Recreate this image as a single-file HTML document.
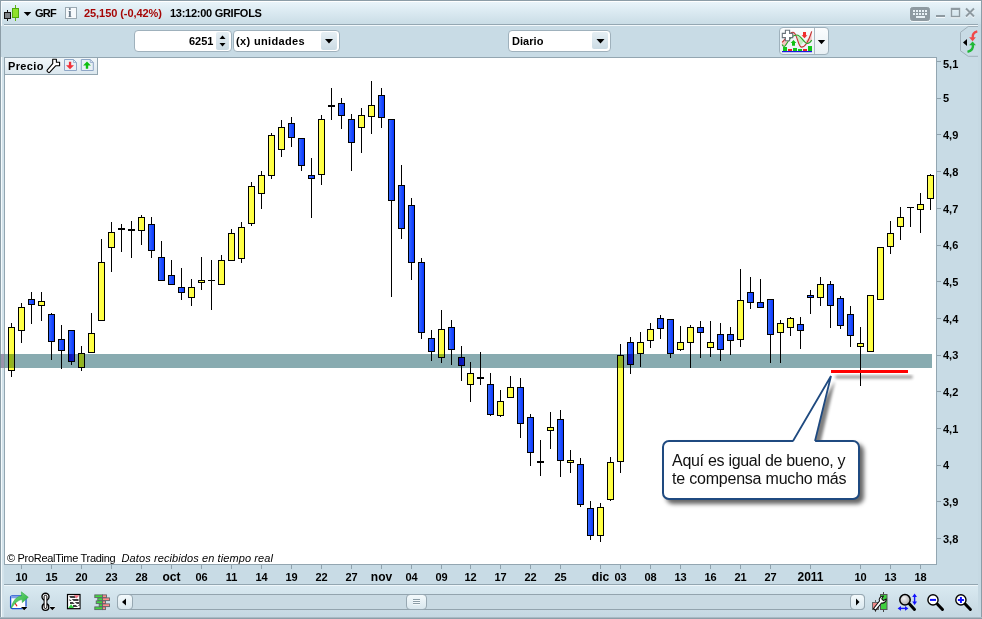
<!DOCTYPE html>
<html><head><meta charset="utf-8"><title>GRF</title>
<style>
*{box-sizing:border-box;margin:0;padding:0}
html,body{width:982px;height:619px;overflow:hidden;background:#c8dbe5}
body{position:relative;font-family:"Liberation Sans",Arial,sans-serif;font-size:11px;font-weight:bold;color:#000}
.abs{position:absolute}
#frame{position:absolute;left:0;top:0;width:982px;height:619px;border:1px solid #8c9da7}
#title{position:absolute;left:1px;top:1px;width:980px;height:23px;background:linear-gradient(#e9f4fa,#d6e6ee 60%,#cadde6);border-top:1px solid #fff;border-left:1px solid #f4fafc}
#tl1{position:absolute;left:4px;top:24px;width:974px;height:1px;background:#94a7b2}
#tl2{position:absolute;left:4px;top:25px;width:974px;height:1px;background:#f2f8fb}
#tool{position:absolute;left:1px;top:26px;width:977px;height:31px;background:#c8dbe5}
#lstrip{position:absolute;left:1px;top:24px;width:3px;height:594px;background:linear-gradient(90deg,#f4fafc 0,#f4fafc 1px,#d3e3eb 1px)}
#rstrip{position:absolute;left:978px;top:24px;width:3px;height:594px;background:#c6d9e3}
.t{position:absolute;white-space:nowrap;line-height:13px}
#chart{position:absolute;left:4px;top:57px;width:933px;height:508px;background:#fff;border:1px solid #93a6b1}
#band{position:absolute;left:0px;top:354px;width:932px;height:14px;background:#88abb0;mix-blend-mode:multiply}
.yt{position:absolute;left:937px;width:4px;height:1px;background:#8fa2ad}
.yl{position:absolute;left:943px;line-height:13px;height:13px}
.xt{position:absolute;top:565px;width:1px;height:4px;background:#8fa2ad}
.xl{position:absolute;top:571px;width:41px;text-align:center;line-height:13px}
.xl.big{font-size:12px;top:570px;line-height:14px}
#sep1{position:absolute;left:4px;top:584px;width:974px;height:1px;background:#93a6b1}
#sep2{position:absolute;left:4px;top:585px;width:974px;height:1px;background:#eef6fa}
#btool{position:absolute;left:4px;top:586px;width:974px;height:31px;background:linear-gradient(#d9e9f1,#c4d7e1)}
#bb{position:absolute;left:0;top:617px;width:982px;height:2px;background:linear-gradient(#a9b9c3 0,#a9b9c3 1px,#8c9da7 1px)}
.inp{position:absolute;top:30px;height:22px;background:#fff;border:1px solid #9fb1bc;border-radius:4px}
.btn{position:absolute;background:linear-gradient(#e6eff4,#cbdbe4);border-radius:2px}
#precio{position:absolute;left:5px;top:58px;width:93px;height:17px;background:linear-gradient(#f1f7fa,#dbe7ee);border-right:1px solid #93a6b1;border-bottom:1px solid #93a6b1}
#copy{position:absolute;left:7px;top:552px;font-weight:normal;font-size:11px;line-height:13px;white-space:nowrap}
#callout{position:absolute;left:661.5px;top:440px;width:198.5px;height:60px;background:#fff;border:2px solid #1f4a80;border-radius:7px;box-shadow:4px 4px 4px rgba(0,0,0,.6)}
#ctext{position:absolute;left:672px;top:452px;font-weight:normal;font-size:16px;line-height:18px;white-space:nowrap;color:#111}
#sb{position:absolute;left:117px;top:594px;width:748px;height:16px;background:#c9dae3;border:1px solid #93a4ae;border-radius:4px}
.sbb{position:absolute;top:594px;width:15px;height:16px;background:linear-gradient(#f4fafc,#d9e7ee);border:1px solid #97a8b2;border-radius:4px}
</style></head><body>
<div id="frame"></div>
<div id="title"></div>
<div id="lstrip"></div><div id="rstrip"></div>
<div id="tl1"></div><div id="tl2"></div>
<div id="tool"></div>

<!-- title bar content -->
<svg class="abs" style="left:0;top:0" width="40" height="25" shape-rendering="crispEdges">
<rect x="7" y="10" width="1" height="11" fill="#111"/><rect x="4" y="12" width="7" height="7" fill="#111"/><rect x="5" y="13" width="5" height="5" fill="#7d8387"/>
<rect x="15" y="5" width="1" height="16" fill="#5cb312"/><rect x="12" y="8" width="7" height="10" fill="#4fa80e"/><rect x="13" y="9" width="5" height="8" fill="#8fe02a"/>
<polygon points="23.700,12 31.300,12 27.500,16" fill="#000" shape-rendering="auto"/>
</svg>
<div class="t" style="left:35px;top:7px;letter-spacing:-0.7px">GRF</div>
<div class="abs" style="left:65px;top:7px;width:12px;height:12px;background:#f6fafc;border:1px solid #9aa9b2"></div>
<div class="t" style="left:68px;top:6px;font-family:'Liberation Serif',serif;color:#6c7d8b;font-size:13px;font-weight:bold">i</div>
<div class="t" style="left:84px;top:7px;color:#a60606;letter-spacing:-0.07px">25,150 (-0,42%)</div>
<div class="t" style="left:170px;top:7px;letter-spacing:-0.27px">13:12:00 GRIFOLS</div>

<!-- window buttons -->
<svg class="abs" style="left:905px;top:3px" width="75" height="22">
<rect x="5.500" y="5.500" width="19" height="13" rx="2" fill="#f2f8fb" stroke="#f2f8fb"/>
<rect x="5.500" y="4.500" width="19" height="13" rx="2" fill="#8e9aa1" stroke="#8e9aa1"/>
<g fill="#e8f1f5"><rect x="8" y="7" width="2" height="2"/><rect x="11" y="7" width="2" height="2"/><rect x="14" y="7" width="2" height="2"/><rect x="17" y="7" width="2" height="2"/><rect x="20" y="7" width="2" height="2"/>
<rect x="8" y="10" width="2" height="2"/><rect x="11" y="10" width="2" height="2"/><rect x="14" y="10" width="2" height="2"/><rect x="17" y="10" width="2" height="2"/><rect x="20" y="10" width="2" height="2"/>
<rect x="11" y="13" width="9" height="2"/></g>
<rect x="31" y="13" width="9" height="2" fill="#f2f8fb"/>
<rect x="31" y="12" width="9" height="2" fill="#8e9aa1"/>
<rect x="46.500" y="6.500" width="8" height="8" fill="none" stroke="#f2f8fb" stroke-width="1.400"/>
<rect x="46.500" y="5.500" width="8" height="8" fill="none" stroke="#8e9aa1" stroke-width="1.400"/>
<rect x="46" y="5" width="9" height="2" fill="#8e9aa1"/>
<path d="M61,6.500 L69,14.500 M69,6.500 L61,14.500" stroke="#f2f8fb" stroke-width="1.800" fill="none"/>
<path d="M61,5.500 L69,13.500 M69,5.500 L61,13.500" stroke="#8e9aa1" stroke-width="1.900" fill="none"/>
</svg>

<!-- toolbar controls -->
<div class="inp" style="left:134px;width:98px"></div>
<div class="t" style="left:189px;top:35px;font-size:11px">6251</div>
<div class="btn" style="left:216px;top:32px;width:13px;height:18px"></div>
<svg class="abs" style="left:216px;top:32px" width="13" height="18"><polygon points="3.500,7 9.500,7 6.500,3.500" fill="#000"/><polygon points="3.500,11 9.500,11 6.500,14.500" fill="#000"/></svg>
<div class="inp" style="left:233px;width:107px"></div>
<div class="t" style="left:236px;top:35px;letter-spacing:0.35px">(x) unidades</div>
<div class="btn" style="left:321px;top:32px;width:16px;height:18px"></div>
<svg class="abs" style="left:321px;top:32px" width="16" height="18"><polygon points="4,7 12,7 8,11.500" fill="#000"/></svg>

<div class="inp" style="left:508px;width:103px"></div>
<div class="t" style="left:512px;top:35px;letter-spacing:0.05px">Diario</div>
<div class="btn" style="left:592px;top:32px;width:16px;height:17px"></div>
<svg class="abs" style="left:592px;top:32px" width="16" height="18"><polygon points="4.500,7 12.500,7 8.500,11.400" fill="#000"/></svg>

<!-- indicator button -->
<div class="abs" style="left:779px;top:27px;width:50px;height:28px;background:linear-gradient(#fbfdfe,#e8f0f4);border:1px solid #9fb1bc;border-radius:4px"></div>
<div class="abs" style="left:814px;top:28px;width:1px;height:26px;background:#aab9c2"></div>
<svg class="abs" style="left:781px;top:28px" width="34" height="26">
<path d="M1.100,14.300 C5,11 8,4.200 12.100,4.200 C13.500,4.200 14.200,5.300 15,6.800 C11,6.500 8,12 4.500,17.500 C3,19 2,18 1.100,16.500 Z" fill="#f6c4c4"/>
<path d="M15,6.800 C16.500,10 18,15 19.500,17.800 C20.500,17 23,12 24.300,13.500 C22,11 19,7 15,6.800 Z" fill="#c2efc2"/>
<path d="M24.300,13.500 C27,11 29,8 30.700,3.300 L30.700,12 C29,15 27,16.500 24.300,13.500 Z" fill="#f6c4c4"/>
<path d="M1.100,14.300 C5,11 8,4.200 12.100,4.200 C16,4.200 17,19.100 20.400,19.100 C24,19.100 28,12 30.700,3.300" fill="none" stroke="#c23030" stroke-width="1.100"/>
<path d="M1.100,16.500 C2,18.500 3.500,19 4.500,17.500 C8,12 11,7 15.800,7 C20,7 23,15.500 26.200,15.500 C28,15.500 29.500,14.500 30.700,12" fill="none" stroke="#28a428" stroke-width="1.100"/>
<path d="M4.400,2.300 h4.200 v3.100 h3.100 v4.200 h-3.100 v3.100 h-4.200 v-3.100 h-3.100 v-4.200 h3.100 z" fill="#fff" stroke="#6a737b" stroke-width="1.100"/>
<path d="M22,3.900 h3 v3.400 h1.400 l-2.900,3 l-2.900,-3 h1.400 z" fill="#f03030"/>
<path d="M11,17.700 h3 v-2.800 h1.300 l-2.800,-3 l-2.800,3 h1.300 z" fill="#10c010"/>
<g fill="#10c818"><rect x="2" y="19" width="4" height="4.500"/><rect x="12" y="20" width="4" height="3.500"/><rect x="17" y="21" width="4" height="2.500"/><rect x="27" y="18" width="4" height="5.500"/></g>
<g fill="#e62828"><rect x="7" y="21" width="4" height="2.500"/><rect x="22" y="21" width="4" height="2.500"/></g>
<rect x="1" y="23" width="30" height="1.200" fill="#1818e0"/>
</svg>
<svg class="abs" style="left:815px;top:28px" width="14" height="26"><polygon points="2.800,12 10.200,12 6.500,16.300" fill="#000"/></svg>

<!-- right tab -->
<svg class="abs" style="left:958px;top:24px" width="20" height="36">
<path d="M20,2.500 H10.200 L2.500,8.300 V26.800 L10.200,32.300 H20" fill="none" stroke="#9fb0ba" stroke-width="1"/>
<polygon points="5,18.400 9,14.900 9,21.900" fill="#000"/>
<path d="M14.800,13.800 C14.300,10 16,8 19.300,7.300" fill="none" stroke="#f04848" stroke-width="2.400"/><polygon points="11.100,13.200 17.900,13.200 14.600,17.300" fill="#f04848"/>
<path d="M14.800,20.500 C15.600,24.500 14,26.600 9.500,27.800" fill="none" stroke="#20b838" stroke-width="2.400"/><polygon points="11.100,21.200 17.900,21.200 14.600,17.500" fill="#20b838"/>
</svg>

<!-- chart -->
<div id="chart"></div>
<svg class="abs" style="left:0;top:0" width="982" height="619" shape-rendering="crispEdges">
<defs>
<linearGradient id="gb" x1="0" x2="1" y1="0" y2="0"><stop offset="0" stop-color="#3468ff"/><stop offset="1" stop-color="#0c38ff"/></linearGradient>
<linearGradient id="gy" x1="0" x2="1" y1="0" y2="0"><stop offset="0" stop-color="#ffff58"/><stop offset="1" stop-color="#ffff38"/></linearGradient>
<linearGradient id="gb2" x1="0" x2="1" y1="0" y2="0"><stop offset="0" stop-color="#0a10b6"/><stop offset="1" stop-color="#1224c2"/></linearGradient>
<linearGradient id="gy2" x1="0" x2="1" y1="0" y2="0"><stop offset="0" stop-color="#98b90c"/><stop offset="1" stop-color="#8eae30"/></linearGradient>
<clipPath id="cout"><rect x="0" y="0" width="982" height="354"/><rect x="0" y="368" width="982" height="251"/></clipPath>
<clipPath id="cin"><rect x="0" y="354" width="932" height="14"/></clipPath>
</defs>
<rect x="0" y="354" width="932" height="14" fill="#88abb0"/>
<rect x="0" y="354" width="1" height="14" fill="#6f8f96"/>
<rect x="1" y="354" width="3" height="14" fill="#9a93ac"/>
<rect x="4" y="354" width="1" height="14" fill="#7a979d"/>
<g clip-path="url(#cout)">
<rect x="11" y="323" width="1" height="54" fill="#000"/>
<rect x="8" y="327" width="7" height="44" fill="#000"/>
<rect x="9" y="328" width="5" height="42" fill="url(#gy)"/>
<rect x="21" y="303" width="1" height="40" fill="#000"/>
<rect x="18" y="307" width="7" height="24" fill="#000"/>
<rect x="19" y="308" width="5" height="22" fill="url(#gy)"/>
<rect x="31" y="292" width="1" height="32" fill="#000"/>
<rect x="28" y="299" width="7" height="6" fill="#000"/>
<rect x="29" y="300" width="5" height="4" fill="url(#gb)"/>
<rect x="41" y="292" width="1" height="29" fill="#000"/>
<rect x="38" y="301" width="7" height="5" fill="#000"/>
<rect x="39" y="302" width="5" height="3" fill="url(#gy)"/>
<rect x="51" y="313" width="1" height="47" fill="#000"/>
<rect x="48" y="314" width="7" height="28" fill="#000"/>
<rect x="49" y="315" width="5" height="26" fill="url(#gb)"/>
<rect x="61" y="325" width="1" height="44" fill="#000"/>
<rect x="58" y="339" width="7" height="12" fill="#000"/>
<rect x="59" y="340" width="5" height="10" fill="url(#gb)"/>
<rect x="71" y="330" width="1" height="35" fill="#000"/>
<rect x="68" y="330" width="7" height="32" fill="#000"/>
<rect x="69" y="331" width="5" height="30" fill="url(#gb)"/>
<rect x="81" y="346" width="1" height="25" fill="#000"/>
<rect x="78" y="353" width="7" height="15" fill="#000"/>
<rect x="79" y="354" width="5" height="13" fill="url(#gy)"/>
<rect x="91" y="313" width="1" height="40" fill="#000"/>
<rect x="88" y="333" width="7" height="20" fill="#000"/>
<rect x="89" y="334" width="5" height="18" fill="url(#gy)"/>
<rect x="101" y="239" width="1" height="82" fill="#000"/>
<rect x="98" y="262" width="7" height="59" fill="#000"/>
<rect x="99" y="263" width="5" height="57" fill="url(#gy)"/>
<rect x="111" y="222" width="1" height="50" fill="#000"/>
<rect x="108" y="232" width="7" height="16" fill="#000"/>
<rect x="109" y="233" width="5" height="14" fill="url(#gy)"/>
<rect x="121" y="224" width="1" height="28" fill="#000"/>
<rect x="118" y="228" width="7" height="2" fill="#000"/>
<rect x="131" y="221" width="1" height="37" fill="#000"/>
<rect x="128" y="229" width="7" height="2" fill="#000"/>
<rect x="141" y="215" width="1" height="30" fill="#000"/>
<rect x="138" y="217" width="7" height="14" fill="#000"/>
<rect x="139" y="218" width="5" height="12" fill="url(#gy)"/>
<rect x="151" y="217" width="1" height="41" fill="#000"/>
<rect x="148" y="224" width="7" height="27" fill="#000"/>
<rect x="149" y="225" width="5" height="25" fill="url(#gb)"/>
<rect x="161" y="241" width="1" height="40" fill="#000"/>
<rect x="158" y="257" width="7" height="24" fill="#000"/>
<rect x="159" y="258" width="5" height="22" fill="url(#gb)"/>
<rect x="171" y="260" width="1" height="25" fill="#000"/>
<rect x="168" y="275" width="7" height="10" fill="#000"/>
<rect x="169" y="276" width="5" height="8" fill="url(#gb)"/>
<rect x="181" y="268" width="1" height="32" fill="#000"/>
<rect x="178" y="287" width="7" height="6" fill="#000"/>
<rect x="179" y="288" width="5" height="4" fill="url(#gb)"/>
<rect x="191" y="279" width="1" height="27" fill="#000"/>
<rect x="188" y="287" width="7" height="11" fill="#000"/>
<rect x="189" y="288" width="5" height="9" fill="url(#gy)"/>
<rect x="201" y="257" width="1" height="33" fill="#000"/>
<rect x="198" y="280" width="7" height="3" fill="#000"/>
<rect x="199" y="281" width="5" height="1" fill="url(#gy)"/>
<rect x="211" y="260" width="1" height="50" fill="#000"/>
<rect x="208" y="280" width="7" height="1" fill="#000"/>
<rect x="221" y="255" width="1" height="30" fill="#000"/>
<rect x="218" y="260" width="7" height="25" fill="#000"/>
<rect x="219" y="261" width="5" height="23" fill="url(#gy)"/>
<rect x="231" y="229" width="1" height="32" fill="#000"/>
<rect x="228" y="233" width="7" height="28" fill="#000"/>
<rect x="229" y="234" width="5" height="26" fill="url(#gy)"/>
<rect x="241" y="222" width="1" height="41" fill="#000"/>
<rect x="238" y="227" width="7" height="32" fill="#000"/>
<rect x="239" y="228" width="5" height="30" fill="url(#gy)"/>
<rect x="251" y="182" width="1" height="44" fill="#000"/>
<rect x="248" y="186" width="7" height="38" fill="#000"/>
<rect x="249" y="187" width="5" height="36" fill="url(#gy)"/>
<rect x="261" y="171" width="1" height="38" fill="#000"/>
<rect x="258" y="175" width="7" height="19" fill="#000"/>
<rect x="259" y="176" width="5" height="17" fill="url(#gy)"/>
<rect x="271" y="133" width="1" height="46" fill="#000"/>
<rect x="268" y="135" width="7" height="41" fill="#000"/>
<rect x="269" y="136" width="5" height="39" fill="url(#gy)"/>
<rect x="281" y="120" width="1" height="37" fill="#000"/>
<rect x="278" y="127" width="7" height="23" fill="#000"/>
<rect x="279" y="128" width="5" height="21" fill="url(#gy)"/>
<rect x="291" y="117" width="1" height="30" fill="#000"/>
<rect x="288" y="123" width="7" height="15" fill="#000"/>
<rect x="289" y="124" width="5" height="13" fill="url(#gb)"/>
<rect x="301" y="138" width="1" height="33" fill="#000"/>
<rect x="298" y="138" width="7" height="28" fill="#000"/>
<rect x="299" y="139" width="5" height="26" fill="url(#gb)"/>
<rect x="311" y="158" width="1" height="60" fill="#000"/>
<rect x="308" y="175" width="7" height="4" fill="#000"/>
<rect x="309" y="176" width="5" height="2" fill="url(#gb)"/>
<rect x="321" y="115" width="1" height="70" fill="#000"/>
<rect x="318" y="119" width="7" height="56" fill="#000"/>
<rect x="319" y="120" width="5" height="54" fill="url(#gy)"/>
<rect x="331" y="88" width="1" height="32" fill="#000"/>
<rect x="328" y="105" width="7" height="2" fill="#000"/>
<rect x="341" y="98" width="1" height="31" fill="#000"/>
<rect x="338" y="103" width="7" height="13" fill="#000"/>
<rect x="339" y="104" width="5" height="11" fill="url(#gb)"/>
<rect x="351" y="114" width="1" height="57" fill="#000"/>
<rect x="348" y="119" width="7" height="24" fill="#000"/>
<rect x="349" y="120" width="5" height="22" fill="url(#gb)"/>
<rect x="361" y="108" width="1" height="45" fill="#000"/>
<rect x="358" y="115" width="7" height="13" fill="#000"/>
<rect x="359" y="116" width="5" height="11" fill="url(#gy)"/>
<rect x="371" y="81" width="1" height="53" fill="#000"/>
<rect x="368" y="105" width="7" height="12" fill="#000"/>
<rect x="369" y="106" width="5" height="10" fill="url(#gy)"/>
<rect x="381" y="88" width="1" height="40" fill="#000"/>
<rect x="378" y="95" width="7" height="23" fill="#000"/>
<rect x="379" y="96" width="5" height="21" fill="url(#gb)"/>
<rect x="391" y="119" width="1" height="178" fill="#000"/>
<rect x="388" y="119" width="7" height="82" fill="#000"/>
<rect x="389" y="120" width="5" height="80" fill="url(#gb)"/>
<rect x="401" y="165" width="1" height="74" fill="#000"/>
<rect x="398" y="185" width="7" height="44" fill="#000"/>
<rect x="399" y="186" width="5" height="42" fill="url(#gb)"/>
<rect x="411" y="198" width="1" height="82" fill="#000"/>
<rect x="408" y="205" width="7" height="58" fill="#000"/>
<rect x="409" y="206" width="5" height="56" fill="url(#gb)"/>
<rect x="421" y="258" width="1" height="81" fill="#000"/>
<rect x="418" y="262" width="7" height="71" fill="#000"/>
<rect x="419" y="263" width="5" height="69" fill="url(#gb)"/>
<rect x="431" y="330" width="1" height="31" fill="#000"/>
<rect x="428" y="338" width="7" height="14" fill="#000"/>
<rect x="429" y="339" width="5" height="12" fill="url(#gb)"/>
<rect x="441" y="310" width="1" height="53" fill="#000"/>
<rect x="438" y="329" width="7" height="29" fill="#000"/>
<rect x="439" y="330" width="5" height="27" fill="url(#gy)"/>
<rect x="451" y="320" width="1" height="45" fill="#000"/>
<rect x="448" y="327" width="7" height="23" fill="#000"/>
<rect x="449" y="328" width="5" height="21" fill="url(#gb)"/>
<rect x="461" y="346" width="1" height="35" fill="#000"/>
<rect x="458" y="357" width="7" height="9" fill="#000"/>
<rect x="459" y="358" width="5" height="7" fill="url(#gb)"/>
<rect x="470" y="362" width="1" height="40" fill="#000"/>
<rect x="467" y="373" width="7" height="12" fill="#000"/>
<rect x="468" y="374" width="5" height="10" fill="url(#gy)"/>
<rect x="480" y="352" width="1" height="33" fill="#000"/>
<rect x="477" y="377" width="7" height="2" fill="#000"/>
<rect x="490" y="373" width="1" height="43" fill="#000"/>
<rect x="487" y="384" width="7" height="31" fill="#000"/>
<rect x="488" y="385" width="5" height="29" fill="url(#gb)"/>
<rect x="500" y="390" width="1" height="27" fill="#000"/>
<rect x="497" y="401" width="7" height="15" fill="#000"/>
<rect x="498" y="402" width="5" height="13" fill="url(#gy)"/>
<rect x="510" y="376" width="1" height="22" fill="#000"/>
<rect x="507" y="387" width="7" height="11" fill="#000"/>
<rect x="508" y="388" width="5" height="9" fill="url(#gy)"/>
<rect x="520" y="378" width="1" height="60" fill="#000"/>
<rect x="517" y="387" width="7" height="37" fill="#000"/>
<rect x="518" y="388" width="5" height="35" fill="url(#gb)"/>
<rect x="530" y="414" width="1" height="52" fill="#000"/>
<rect x="527" y="417" width="7" height="36" fill="#000"/>
<rect x="528" y="418" width="5" height="34" fill="url(#gb)"/>
<rect x="540" y="440" width="1" height="36" fill="#000"/>
<rect x="537" y="461" width="7" height="2" fill="#000"/>
<rect x="550" y="412" width="1" height="37" fill="#000"/>
<rect x="547" y="427" width="7" height="4" fill="#000"/>
<rect x="548" y="428" width="5" height="2" fill="url(#gy)"/>
<rect x="560" y="410" width="1" height="67" fill="#000"/>
<rect x="557" y="419" width="7" height="42" fill="#000"/>
<rect x="558" y="420" width="5" height="40" fill="url(#gb)"/>
<rect x="570" y="450" width="1" height="23" fill="#000"/>
<rect x="567" y="460" width="7" height="3" fill="#000"/>
<rect x="568" y="461" width="5" height="1" fill="url(#gy)"/>
<rect x="580" y="458" width="1" height="49" fill="#000"/>
<rect x="577" y="464" width="7" height="41" fill="#000"/>
<rect x="578" y="465" width="5" height="39" fill="url(#gb)"/>
<rect x="590" y="501" width="1" height="39" fill="#000"/>
<rect x="587" y="508" width="7" height="28" fill="#000"/>
<rect x="588" y="509" width="5" height="26" fill="url(#gb)"/>
<rect x="600" y="503" width="1" height="39" fill="#000"/>
<rect x="597" y="507" width="7" height="29" fill="#000"/>
<rect x="598" y="508" width="5" height="27" fill="url(#gy)"/>
<rect x="610" y="457" width="1" height="44" fill="#000"/>
<rect x="607" y="462" width="7" height="38" fill="#000"/>
<rect x="608" y="463" width="5" height="36" fill="url(#gy)"/>
<rect x="620" y="344" width="1" height="129" fill="#000"/>
<rect x="617" y="355" width="7" height="107" fill="#000"/>
<rect x="618" y="356" width="5" height="105" fill="url(#gy)"/>
<rect x="630" y="337" width="1" height="37" fill="#000"/>
<rect x="627" y="342" width="7" height="23" fill="#000"/>
<rect x="628" y="343" width="5" height="21" fill="url(#gb)"/>
<rect x="640" y="332" width="1" height="35" fill="#000"/>
<rect x="637" y="342" width="7" height="12" fill="#000"/>
<rect x="638" y="343" width="5" height="10" fill="url(#gy)"/>
<rect x="650" y="323" width="1" height="25" fill="#000"/>
<rect x="647" y="329" width="7" height="12" fill="#000"/>
<rect x="648" y="330" width="5" height="10" fill="url(#gy)"/>
<rect x="660" y="315" width="1" height="24" fill="#000"/>
<rect x="657" y="318" width="7" height="11" fill="#000"/>
<rect x="658" y="319" width="5" height="9" fill="url(#gb)"/>
<rect x="670" y="319" width="1" height="39" fill="#000"/>
<rect x="667" y="319" width="7" height="35" fill="#000"/>
<rect x="668" y="320" width="5" height="33" fill="url(#gb)"/>
<rect x="680" y="326" width="1" height="25" fill="#000"/>
<rect x="677" y="342" width="7" height="8" fill="#000"/>
<rect x="678" y="343" width="5" height="6" fill="url(#gy)"/>
<rect x="690" y="325" width="1" height="43" fill="#000"/>
<rect x="687" y="327" width="7" height="16" fill="#000"/>
<rect x="688" y="328" width="5" height="14" fill="url(#gy)"/>
<rect x="700" y="321" width="1" height="37" fill="#000"/>
<rect x="697" y="327" width="7" height="6" fill="#000"/>
<rect x="698" y="328" width="5" height="4" fill="url(#gb)"/>
<rect x="710" y="321" width="1" height="36" fill="#000"/>
<rect x="707" y="342" width="7" height="6" fill="#000"/>
<rect x="708" y="343" width="5" height="4" fill="url(#gy)"/>
<rect x="720" y="323" width="1" height="38" fill="#000"/>
<rect x="717" y="334" width="7" height="16" fill="#000"/>
<rect x="718" y="335" width="5" height="14" fill="url(#gb)"/>
<rect x="730" y="327" width="1" height="28" fill="#000"/>
<rect x="727" y="334" width="7" height="7" fill="#000"/>
<rect x="728" y="335" width="5" height="5" fill="url(#gb)"/>
<rect x="740" y="269" width="1" height="78" fill="#000"/>
<rect x="737" y="300" width="7" height="40" fill="#000"/>
<rect x="738" y="301" width="5" height="38" fill="url(#gy)"/>
<rect x="750" y="277" width="1" height="32" fill="#000"/>
<rect x="747" y="292" width="7" height="11" fill="#000"/>
<rect x="748" y="293" width="5" height="9" fill="url(#gb)"/>
<rect x="760" y="279" width="1" height="29" fill="#000"/>
<rect x="757" y="302" width="7" height="6" fill="#000"/>
<rect x="758" y="303" width="5" height="4" fill="url(#gb)"/>
<rect x="770" y="299" width="1" height="64" fill="#000"/>
<rect x="767" y="299" width="7" height="36" fill="#000"/>
<rect x="768" y="300" width="5" height="34" fill="url(#gb)"/>
<rect x="780" y="320" width="1" height="43" fill="#000"/>
<rect x="777" y="323" width="7" height="10" fill="#000"/>
<rect x="778" y="324" width="5" height="8" fill="url(#gy)"/>
<rect x="790" y="317" width="1" height="19" fill="#000"/>
<rect x="787" y="318" width="7" height="10" fill="#000"/>
<rect x="788" y="319" width="5" height="8" fill="url(#gy)"/>
<rect x="800" y="317" width="1" height="32" fill="#000"/>
<rect x="797" y="324" width="7" height="7" fill="#000"/>
<rect x="798" y="325" width="5" height="5" fill="url(#gb)"/>
<rect x="810" y="290" width="1" height="24" fill="#000"/>
<rect x="807" y="295" width="7" height="3" fill="#000"/>
<rect x="808" y="296" width="5" height="1" fill="url(#gb)"/>
<rect x="820" y="277" width="1" height="29" fill="#000"/>
<rect x="817" y="284" width="7" height="14" fill="#000"/>
<rect x="818" y="285" width="5" height="12" fill="url(#gy)"/>
<rect x="830" y="281" width="1" height="47" fill="#000"/>
<rect x="827" y="284" width="7" height="22" fill="#000"/>
<rect x="828" y="285" width="5" height="20" fill="url(#gb)"/>
<rect x="840" y="296" width="1" height="33" fill="#000"/>
<rect x="837" y="298" width="7" height="28" fill="#000"/>
<rect x="838" y="299" width="5" height="26" fill="url(#gb)"/>
<rect x="850" y="306" width="1" height="41" fill="#000"/>
<rect x="847" y="314" width="7" height="22" fill="#000"/>
<rect x="848" y="315" width="5" height="20" fill="url(#gb)"/>
<rect x="860" y="327" width="1" height="59" fill="#000"/>
<rect x="857" y="343" width="7" height="4" fill="#000"/>
<rect x="858" y="344" width="5" height="2" fill="url(#gy)"/>
<rect x="870" y="295" width="1" height="57" fill="#000"/>
<rect x="867" y="295" width="7" height="57" fill="#000"/>
<rect x="868" y="296" width="5" height="55" fill="url(#gy)"/>
<rect x="880" y="247" width="1" height="53" fill="#000"/>
<rect x="877" y="247" width="7" height="53" fill="#000"/>
<rect x="878" y="248" width="5" height="51" fill="url(#gy)"/>
<rect x="890" y="221" width="1" height="33" fill="#000"/>
<rect x="887" y="233" width="7" height="14" fill="#000"/>
<rect x="888" y="234" width="5" height="12" fill="url(#gy)"/>
<rect x="900" y="207" width="1" height="33" fill="#000"/>
<rect x="897" y="217" width="7" height="10" fill="#000"/>
<rect x="898" y="218" width="5" height="8" fill="url(#gy)"/>
<rect x="910" y="207" width="1" height="20" fill="#000"/>
<rect x="907" y="207" width="7" height="1" fill="#000"/>
<rect x="920" y="193" width="1" height="40" fill="#000"/>
<rect x="917" y="204" width="7" height="6" fill="#000"/>
<rect x="918" y="205" width="5" height="4" fill="url(#gy)"/>
<rect x="930" y="174" width="1" height="36" fill="#000"/>
<rect x="927" y="175" width="7" height="24" fill="#000"/>
<rect x="928" y="176" width="5" height="22" fill="url(#gy)"/>
</g>
<g clip-path="url(#cin)">
<rect x="11" y="323" width="1" height="54" fill="#000"/>
<rect x="8" y="327" width="7" height="44" fill="#000"/>
<rect x="9" y="328" width="5" height="42" fill="url(#gy2)"/>
<rect x="21" y="303" width="1" height="40" fill="#000"/>
<rect x="18" y="307" width="7" height="24" fill="#000"/>
<rect x="19" y="308" width="5" height="22" fill="url(#gy2)"/>
<rect x="31" y="292" width="1" height="32" fill="#000"/>
<rect x="28" y="299" width="7" height="6" fill="#000"/>
<rect x="29" y="300" width="5" height="4" fill="url(#gb2)"/>
<rect x="41" y="292" width="1" height="29" fill="#000"/>
<rect x="38" y="301" width="7" height="5" fill="#000"/>
<rect x="39" y="302" width="5" height="3" fill="url(#gy2)"/>
<rect x="51" y="313" width="1" height="47" fill="#000"/>
<rect x="48" y="314" width="7" height="28" fill="#000"/>
<rect x="49" y="315" width="5" height="26" fill="url(#gb2)"/>
<rect x="61" y="325" width="1" height="44" fill="#000"/>
<rect x="58" y="339" width="7" height="12" fill="#000"/>
<rect x="59" y="340" width="5" height="10" fill="url(#gb2)"/>
<rect x="71" y="330" width="1" height="35" fill="#000"/>
<rect x="68" y="330" width="7" height="32" fill="#000"/>
<rect x="69" y="331" width="5" height="30" fill="url(#gb2)"/>
<rect x="81" y="346" width="1" height="25" fill="#000"/>
<rect x="78" y="353" width="7" height="15" fill="#000"/>
<rect x="79" y="354" width="5" height="13" fill="url(#gy2)"/>
<rect x="91" y="313" width="1" height="40" fill="#000"/>
<rect x="88" y="333" width="7" height="20" fill="#000"/>
<rect x="89" y="334" width="5" height="18" fill="url(#gy2)"/>
<rect x="101" y="239" width="1" height="82" fill="#000"/>
<rect x="98" y="262" width="7" height="59" fill="#000"/>
<rect x="99" y="263" width="5" height="57" fill="url(#gy2)"/>
<rect x="111" y="222" width="1" height="50" fill="#000"/>
<rect x="108" y="232" width="7" height="16" fill="#000"/>
<rect x="109" y="233" width="5" height="14" fill="url(#gy2)"/>
<rect x="121" y="224" width="1" height="28" fill="#000"/>
<rect x="118" y="228" width="7" height="2" fill="#000"/>
<rect x="131" y="221" width="1" height="37" fill="#000"/>
<rect x="128" y="229" width="7" height="2" fill="#000"/>
<rect x="141" y="215" width="1" height="30" fill="#000"/>
<rect x="138" y="217" width="7" height="14" fill="#000"/>
<rect x="139" y="218" width="5" height="12" fill="url(#gy2)"/>
<rect x="151" y="217" width="1" height="41" fill="#000"/>
<rect x="148" y="224" width="7" height="27" fill="#000"/>
<rect x="149" y="225" width="5" height="25" fill="url(#gb2)"/>
<rect x="161" y="241" width="1" height="40" fill="#000"/>
<rect x="158" y="257" width="7" height="24" fill="#000"/>
<rect x="159" y="258" width="5" height="22" fill="url(#gb2)"/>
<rect x="171" y="260" width="1" height="25" fill="#000"/>
<rect x="168" y="275" width="7" height="10" fill="#000"/>
<rect x="169" y="276" width="5" height="8" fill="url(#gb2)"/>
<rect x="181" y="268" width="1" height="32" fill="#000"/>
<rect x="178" y="287" width="7" height="6" fill="#000"/>
<rect x="179" y="288" width="5" height="4" fill="url(#gb2)"/>
<rect x="191" y="279" width="1" height="27" fill="#000"/>
<rect x="188" y="287" width="7" height="11" fill="#000"/>
<rect x="189" y="288" width="5" height="9" fill="url(#gy2)"/>
<rect x="201" y="257" width="1" height="33" fill="#000"/>
<rect x="198" y="280" width="7" height="3" fill="#000"/>
<rect x="199" y="281" width="5" height="1" fill="url(#gy2)"/>
<rect x="211" y="260" width="1" height="50" fill="#000"/>
<rect x="208" y="280" width="7" height="1" fill="#000"/>
<rect x="221" y="255" width="1" height="30" fill="#000"/>
<rect x="218" y="260" width="7" height="25" fill="#000"/>
<rect x="219" y="261" width="5" height="23" fill="url(#gy2)"/>
<rect x="231" y="229" width="1" height="32" fill="#000"/>
<rect x="228" y="233" width="7" height="28" fill="#000"/>
<rect x="229" y="234" width="5" height="26" fill="url(#gy2)"/>
<rect x="241" y="222" width="1" height="41" fill="#000"/>
<rect x="238" y="227" width="7" height="32" fill="#000"/>
<rect x="239" y="228" width="5" height="30" fill="url(#gy2)"/>
<rect x="251" y="182" width="1" height="44" fill="#000"/>
<rect x="248" y="186" width="7" height="38" fill="#000"/>
<rect x="249" y="187" width="5" height="36" fill="url(#gy2)"/>
<rect x="261" y="171" width="1" height="38" fill="#000"/>
<rect x="258" y="175" width="7" height="19" fill="#000"/>
<rect x="259" y="176" width="5" height="17" fill="url(#gy2)"/>
<rect x="271" y="133" width="1" height="46" fill="#000"/>
<rect x="268" y="135" width="7" height="41" fill="#000"/>
<rect x="269" y="136" width="5" height="39" fill="url(#gy2)"/>
<rect x="281" y="120" width="1" height="37" fill="#000"/>
<rect x="278" y="127" width="7" height="23" fill="#000"/>
<rect x="279" y="128" width="5" height="21" fill="url(#gy2)"/>
<rect x="291" y="117" width="1" height="30" fill="#000"/>
<rect x="288" y="123" width="7" height="15" fill="#000"/>
<rect x="289" y="124" width="5" height="13" fill="url(#gb2)"/>
<rect x="301" y="138" width="1" height="33" fill="#000"/>
<rect x="298" y="138" width="7" height="28" fill="#000"/>
<rect x="299" y="139" width="5" height="26" fill="url(#gb2)"/>
<rect x="311" y="158" width="1" height="60" fill="#000"/>
<rect x="308" y="175" width="7" height="4" fill="#000"/>
<rect x="309" y="176" width="5" height="2" fill="url(#gb2)"/>
<rect x="321" y="115" width="1" height="70" fill="#000"/>
<rect x="318" y="119" width="7" height="56" fill="#000"/>
<rect x="319" y="120" width="5" height="54" fill="url(#gy2)"/>
<rect x="331" y="88" width="1" height="32" fill="#000"/>
<rect x="328" y="105" width="7" height="2" fill="#000"/>
<rect x="341" y="98" width="1" height="31" fill="#000"/>
<rect x="338" y="103" width="7" height="13" fill="#000"/>
<rect x="339" y="104" width="5" height="11" fill="url(#gb2)"/>
<rect x="351" y="114" width="1" height="57" fill="#000"/>
<rect x="348" y="119" width="7" height="24" fill="#000"/>
<rect x="349" y="120" width="5" height="22" fill="url(#gb2)"/>
<rect x="361" y="108" width="1" height="45" fill="#000"/>
<rect x="358" y="115" width="7" height="13" fill="#000"/>
<rect x="359" y="116" width="5" height="11" fill="url(#gy2)"/>
<rect x="371" y="81" width="1" height="53" fill="#000"/>
<rect x="368" y="105" width="7" height="12" fill="#000"/>
<rect x="369" y="106" width="5" height="10" fill="url(#gy2)"/>
<rect x="381" y="88" width="1" height="40" fill="#000"/>
<rect x="378" y="95" width="7" height="23" fill="#000"/>
<rect x="379" y="96" width="5" height="21" fill="url(#gb2)"/>
<rect x="391" y="119" width="1" height="178" fill="#000"/>
<rect x="388" y="119" width="7" height="82" fill="#000"/>
<rect x="389" y="120" width="5" height="80" fill="url(#gb2)"/>
<rect x="401" y="165" width="1" height="74" fill="#000"/>
<rect x="398" y="185" width="7" height="44" fill="#000"/>
<rect x="399" y="186" width="5" height="42" fill="url(#gb2)"/>
<rect x="411" y="198" width="1" height="82" fill="#000"/>
<rect x="408" y="205" width="7" height="58" fill="#000"/>
<rect x="409" y="206" width="5" height="56" fill="url(#gb2)"/>
<rect x="421" y="258" width="1" height="81" fill="#000"/>
<rect x="418" y="262" width="7" height="71" fill="#000"/>
<rect x="419" y="263" width="5" height="69" fill="url(#gb2)"/>
<rect x="431" y="330" width="1" height="31" fill="#000"/>
<rect x="428" y="338" width="7" height="14" fill="#000"/>
<rect x="429" y="339" width="5" height="12" fill="url(#gb2)"/>
<rect x="441" y="310" width="1" height="53" fill="#000"/>
<rect x="438" y="329" width="7" height="29" fill="#000"/>
<rect x="439" y="330" width="5" height="27" fill="url(#gy2)"/>
<rect x="451" y="320" width="1" height="45" fill="#000"/>
<rect x="448" y="327" width="7" height="23" fill="#000"/>
<rect x="449" y="328" width="5" height="21" fill="url(#gb2)"/>
<rect x="461" y="346" width="1" height="35" fill="#000"/>
<rect x="458" y="357" width="7" height="9" fill="#000"/>
<rect x="459" y="358" width="5" height="7" fill="url(#gb2)"/>
<rect x="470" y="362" width="1" height="40" fill="#000"/>
<rect x="467" y="373" width="7" height="12" fill="#000"/>
<rect x="468" y="374" width="5" height="10" fill="url(#gy2)"/>
<rect x="480" y="352" width="1" height="33" fill="#000"/>
<rect x="477" y="377" width="7" height="2" fill="#000"/>
<rect x="490" y="373" width="1" height="43" fill="#000"/>
<rect x="487" y="384" width="7" height="31" fill="#000"/>
<rect x="488" y="385" width="5" height="29" fill="url(#gb2)"/>
<rect x="500" y="390" width="1" height="27" fill="#000"/>
<rect x="497" y="401" width="7" height="15" fill="#000"/>
<rect x="498" y="402" width="5" height="13" fill="url(#gy2)"/>
<rect x="510" y="376" width="1" height="22" fill="#000"/>
<rect x="507" y="387" width="7" height="11" fill="#000"/>
<rect x="508" y="388" width="5" height="9" fill="url(#gy2)"/>
<rect x="520" y="378" width="1" height="60" fill="#000"/>
<rect x="517" y="387" width="7" height="37" fill="#000"/>
<rect x="518" y="388" width="5" height="35" fill="url(#gb2)"/>
<rect x="530" y="414" width="1" height="52" fill="#000"/>
<rect x="527" y="417" width="7" height="36" fill="#000"/>
<rect x="528" y="418" width="5" height="34" fill="url(#gb2)"/>
<rect x="540" y="440" width="1" height="36" fill="#000"/>
<rect x="537" y="461" width="7" height="2" fill="#000"/>
<rect x="550" y="412" width="1" height="37" fill="#000"/>
<rect x="547" y="427" width="7" height="4" fill="#000"/>
<rect x="548" y="428" width="5" height="2" fill="url(#gy2)"/>
<rect x="560" y="410" width="1" height="67" fill="#000"/>
<rect x="557" y="419" width="7" height="42" fill="#000"/>
<rect x="558" y="420" width="5" height="40" fill="url(#gb2)"/>
<rect x="570" y="450" width="1" height="23" fill="#000"/>
<rect x="567" y="460" width="7" height="3" fill="#000"/>
<rect x="568" y="461" width="5" height="1" fill="url(#gy2)"/>
<rect x="580" y="458" width="1" height="49" fill="#000"/>
<rect x="577" y="464" width="7" height="41" fill="#000"/>
<rect x="578" y="465" width="5" height="39" fill="url(#gb2)"/>
<rect x="590" y="501" width="1" height="39" fill="#000"/>
<rect x="587" y="508" width="7" height="28" fill="#000"/>
<rect x="588" y="509" width="5" height="26" fill="url(#gb2)"/>
<rect x="600" y="503" width="1" height="39" fill="#000"/>
<rect x="597" y="507" width="7" height="29" fill="#000"/>
<rect x="598" y="508" width="5" height="27" fill="url(#gy2)"/>
<rect x="610" y="457" width="1" height="44" fill="#000"/>
<rect x="607" y="462" width="7" height="38" fill="#000"/>
<rect x="608" y="463" width="5" height="36" fill="url(#gy2)"/>
<rect x="620" y="344" width="1" height="129" fill="#000"/>
<rect x="617" y="355" width="7" height="107" fill="#000"/>
<rect x="618" y="356" width="5" height="105" fill="url(#gy2)"/>
<rect x="630" y="337" width="1" height="37" fill="#000"/>
<rect x="627" y="342" width="7" height="23" fill="#000"/>
<rect x="628" y="343" width="5" height="21" fill="url(#gb2)"/>
<rect x="640" y="332" width="1" height="35" fill="#000"/>
<rect x="637" y="342" width="7" height="12" fill="#000"/>
<rect x="638" y="343" width="5" height="10" fill="url(#gy2)"/>
<rect x="650" y="323" width="1" height="25" fill="#000"/>
<rect x="647" y="329" width="7" height="12" fill="#000"/>
<rect x="648" y="330" width="5" height="10" fill="url(#gy2)"/>
<rect x="660" y="315" width="1" height="24" fill="#000"/>
<rect x="657" y="318" width="7" height="11" fill="#000"/>
<rect x="658" y="319" width="5" height="9" fill="url(#gb2)"/>
<rect x="670" y="319" width="1" height="39" fill="#000"/>
<rect x="667" y="319" width="7" height="35" fill="#000"/>
<rect x="668" y="320" width="5" height="33" fill="url(#gb2)"/>
<rect x="680" y="326" width="1" height="25" fill="#000"/>
<rect x="677" y="342" width="7" height="8" fill="#000"/>
<rect x="678" y="343" width="5" height="6" fill="url(#gy2)"/>
<rect x="690" y="325" width="1" height="43" fill="#000"/>
<rect x="687" y="327" width="7" height="16" fill="#000"/>
<rect x="688" y="328" width="5" height="14" fill="url(#gy2)"/>
<rect x="700" y="321" width="1" height="37" fill="#000"/>
<rect x="697" y="327" width="7" height="6" fill="#000"/>
<rect x="698" y="328" width="5" height="4" fill="url(#gb2)"/>
<rect x="710" y="321" width="1" height="36" fill="#000"/>
<rect x="707" y="342" width="7" height="6" fill="#000"/>
<rect x="708" y="343" width="5" height="4" fill="url(#gy2)"/>
<rect x="720" y="323" width="1" height="38" fill="#000"/>
<rect x="717" y="334" width="7" height="16" fill="#000"/>
<rect x="718" y="335" width="5" height="14" fill="url(#gb2)"/>
<rect x="730" y="327" width="1" height="28" fill="#000"/>
<rect x="727" y="334" width="7" height="7" fill="#000"/>
<rect x="728" y="335" width="5" height="5" fill="url(#gb2)"/>
<rect x="740" y="269" width="1" height="78" fill="#000"/>
<rect x="737" y="300" width="7" height="40" fill="#000"/>
<rect x="738" y="301" width="5" height="38" fill="url(#gy2)"/>
<rect x="750" y="277" width="1" height="32" fill="#000"/>
<rect x="747" y="292" width="7" height="11" fill="#000"/>
<rect x="748" y="293" width="5" height="9" fill="url(#gb2)"/>
<rect x="760" y="279" width="1" height="29" fill="#000"/>
<rect x="757" y="302" width="7" height="6" fill="#000"/>
<rect x="758" y="303" width="5" height="4" fill="url(#gb2)"/>
<rect x="770" y="299" width="1" height="64" fill="#000"/>
<rect x="767" y="299" width="7" height="36" fill="#000"/>
<rect x="768" y="300" width="5" height="34" fill="url(#gb2)"/>
<rect x="780" y="320" width="1" height="43" fill="#000"/>
<rect x="777" y="323" width="7" height="10" fill="#000"/>
<rect x="778" y="324" width="5" height="8" fill="url(#gy2)"/>
<rect x="790" y="317" width="1" height="19" fill="#000"/>
<rect x="787" y="318" width="7" height="10" fill="#000"/>
<rect x="788" y="319" width="5" height="8" fill="url(#gy2)"/>
<rect x="800" y="317" width="1" height="32" fill="#000"/>
<rect x="797" y="324" width="7" height="7" fill="#000"/>
<rect x="798" y="325" width="5" height="5" fill="url(#gb2)"/>
<rect x="810" y="290" width="1" height="24" fill="#000"/>
<rect x="807" y="295" width="7" height="3" fill="#000"/>
<rect x="808" y="296" width="5" height="1" fill="url(#gb2)"/>
<rect x="820" y="277" width="1" height="29" fill="#000"/>
<rect x="817" y="284" width="7" height="14" fill="#000"/>
<rect x="818" y="285" width="5" height="12" fill="url(#gy2)"/>
<rect x="830" y="281" width="1" height="47" fill="#000"/>
<rect x="827" y="284" width="7" height="22" fill="#000"/>
<rect x="828" y="285" width="5" height="20" fill="url(#gb2)"/>
<rect x="840" y="296" width="1" height="33" fill="#000"/>
<rect x="837" y="298" width="7" height="28" fill="#000"/>
<rect x="838" y="299" width="5" height="26" fill="url(#gb2)"/>
<rect x="850" y="306" width="1" height="41" fill="#000"/>
<rect x="847" y="314" width="7" height="22" fill="#000"/>
<rect x="848" y="315" width="5" height="20" fill="url(#gb2)"/>
<rect x="860" y="327" width="1" height="59" fill="#000"/>
<rect x="857" y="343" width="7" height="4" fill="#000"/>
<rect x="858" y="344" width="5" height="2" fill="url(#gy2)"/>
<rect x="870" y="295" width="1" height="57" fill="#000"/>
<rect x="867" y="295" width="7" height="57" fill="#000"/>
<rect x="868" y="296" width="5" height="55" fill="url(#gy2)"/>
<rect x="880" y="247" width="1" height="53" fill="#000"/>
<rect x="877" y="247" width="7" height="53" fill="#000"/>
<rect x="878" y="248" width="5" height="51" fill="url(#gy2)"/>
<rect x="890" y="221" width="1" height="33" fill="#000"/>
<rect x="887" y="233" width="7" height="14" fill="#000"/>
<rect x="888" y="234" width="5" height="12" fill="url(#gy2)"/>
<rect x="900" y="207" width="1" height="33" fill="#000"/>
<rect x="897" y="217" width="7" height="10" fill="#000"/>
<rect x="898" y="218" width="5" height="8" fill="url(#gy2)"/>
<rect x="910" y="207" width="1" height="20" fill="#000"/>
<rect x="907" y="207" width="7" height="1" fill="#000"/>
<rect x="920" y="193" width="1" height="40" fill="#000"/>
<rect x="917" y="204" width="7" height="6" fill="#000"/>
<rect x="918" y="205" width="5" height="4" fill="url(#gy2)"/>
<rect x="930" y="174" width="1" height="36" fill="#000"/>
<rect x="927" y="175" width="7" height="24" fill="#000"/>
<rect x="928" y="176" width="5" height="22" fill="url(#gy2)"/>
</g>
</svg>

<!-- precio label -->
<div id="precio"></div>
<div class="t" style="left:8px;top:60px;letter-spacing:0.35px">Precio</div>
<svg class="abs" style="left:46px;top:58px" width="52" height="17">
<path d="M1.400,11.900 L6.700,5.700 V1.300 H10.400 V4.200 H13.600 V7.800 H9.600 L3.800,14.200 C2.600,15.300 0.300,13.200 1.400,11.900 Z" fill="#fff" stroke="#000" stroke-width="1.100" stroke-linejoin="round"/>
<path d="M18.500,1.500 h9 l3,3 v8 h-12 z" fill="#e9f0f6" stroke="#8ea6c6" stroke-width="1"/><path d="M27.500,1.500 v3 h3" fill="none" stroke="#8ea6c6" stroke-width=".8"/>
<path d="M22.900,3.800 h2.300 v3.400 h2.800 l-4,4 l-4,-4 h2.900 z" fill="#f03038"/>
<path d="M35.300,1.500 h9 l3,3 v8 h-12 z" fill="#e9f0f6" stroke="#8ea6c6" stroke-width="1"/><path d="M44.300,1.500 v3 h3" fill="none" stroke="#8ea6c6" stroke-width=".8"/>
<path d="M39.800,10.800 h2.400 v-3.200 h2.700 l-3.900,-4 l-3.900,4 h2.700 z" fill="#10c010"/>
</svg>

<div id="copy"><span style="letter-spacing:-0.3px">© ProRealTime Trading</span>&nbsp; <i style="letter-spacing:0.1px">Datos recibidos en tiempo real</i></div>

<!-- annotation -->
<svg class="abs" style="left:0;top:0" width="982" height="619">
<defs><filter id="sh" x="-20%" y="-50%" width="140%" height="300%"><feGaussianBlur stdDeviation="1.500"/></filter></defs>
<rect x="835.500" y="375.500" width="77" height="3" fill="#000" opacity=".42" filter="url(#sh)"/>
<rect x="831" y="370" width="77" height="3" fill="#f00"/>
<path d="M798,445 L835,381 L820,445 Z" fill="#000" opacity=".5" filter="url(#sh)"/>
</svg>
<div id="callout"></div>
<svg class="abs" style="left:0;top:0" width="982" height="619">
<path d="M793,442 L831,376 L815,442 Z" fill="#fff"/>
<path d="M793,441 L831,376 L815,441" fill="none" stroke="#1f4a80" stroke-width="1.800" stroke-linejoin="miter"/>
</svg>
<div id="ctext"><span style="letter-spacing:-0.29px">Aquí es igual de bueno, y</span><br><span style="letter-spacing:-0.21px">te compensa mucho más</span></div>

<!-- axes -->
<div class="yt" style="top:61px"></div><div class="yl" style="top:58px">5,1</div>
<div class="yt" style="top:98px"></div><div class="yl" style="top:92px">5</div>
<div class="yt" style="top:134px"></div><div class="yl" style="top:129px">4,9</div>
<div class="yt" style="top:171px"></div><div class="yl" style="top:166px">4,8</div>
<div class="yt" style="top:208px"></div><div class="yl" style="top:203px">4,7</div>
<div class="yt" style="top:245px"></div><div class="yl" style="top:239px">4,6</div>
<div class="yt" style="top:281px"></div><div class="yl" style="top:276px">4,5</div>
<div class="yt" style="top:318px"></div><div class="yl" style="top:313px">4,4</div>
<div class="yt" style="top:355px"></div><div class="yl" style="top:349px">4,3</div>
<div class="yt" style="top:391px"></div><div class="yl" style="top:386px">4,2</div>
<div class="yt" style="top:428px"></div><div class="yl" style="top:423px">4,1</div>
<div class="yt" style="top:465px"></div><div class="yl" style="top:459px">4</div>
<div class="yt" style="top:501px"></div><div class="yl" style="top:496px">3,9</div>
<div class="yt" style="top:538px"></div><div class="yl" style="top:533px">3,8</div>
<div class="xt" style="left:21px"></div><div class="xl" style="left:1px">10</div>
<div class="xt" style="left:51px"></div><div class="xl" style="left:31px">15</div>
<div class="xt" style="left:81px"></div><div class="xl" style="left:61px">20</div>
<div class="xt" style="left:111px"></div><div class="xl" style="left:91px">23</div>
<div class="xt" style="left:141px"></div><div class="xl" style="left:121px">28</div>
<div class="xt" style="left:171px"></div><div class="xl big" style="left:151px">oct</div>
<div class="xt" style="left:201px"></div><div class="xl" style="left:181px">06</div>
<div class="xt" style="left:231px"></div><div class="xl" style="left:211px">11</div>
<div class="xt" style="left:261px"></div><div class="xl" style="left:241px">14</div>
<div class="xt" style="left:291px"></div><div class="xl" style="left:271px">19</div>
<div class="xt" style="left:321px"></div><div class="xl" style="left:301px">22</div>
<div class="xt" style="left:351px"></div><div class="xl" style="left:331px">27</div>
<div class="xt" style="left:381px"></div><div class="xl big" style="left:361px">nov</div>
<div class="xt" style="left:411px"></div><div class="xl" style="left:391px">04</div>
<div class="xt" style="left:441px"></div><div class="xl" style="left:421px">09</div>
<div class="xt" style="left:470px"></div><div class="xl" style="left:450px">12</div>
<div class="xt" style="left:500px"></div><div class="xl" style="left:480px">17</div>
<div class="xt" style="left:530px"></div><div class="xl" style="left:510px">22</div>
<div class="xt" style="left:560px"></div><div class="xl" style="left:540px">25</div>
<div class="xt" style="left:600px"></div><div class="xl big" style="left:580px">dic</div>
<div class="xt" style="left:620px"></div><div class="xl" style="left:600px">03</div>
<div class="xt" style="left:650px"></div><div class="xl" style="left:630px">08</div>
<div class="xt" style="left:680px"></div><div class="xl" style="left:660px">13</div>
<div class="xt" style="left:710px"></div><div class="xl" style="left:690px">16</div>
<div class="xt" style="left:740px"></div><div class="xl" style="left:720px">21</div>
<div class="xt" style="left:770px"></div><div class="xl" style="left:750px">27</div>
<div class="xt" style="left:810px"></div><div class="xl big" style="left:790px">2011</div>
<div class="xt" style="left:860px"></div><div class="xl" style="left:840px">10</div>
<div class="xt" style="left:890px"></div><div class="xl" style="left:870px">13</div>
<div class="xt" style="left:920px"></div><div class="xl" style="left:900px">18</div>
<div id="sep1"></div><div id="sep2"></div>
<div id="btool"></div>
<div id="bb"></div>

<!-- bottom toolbar icons -->
<svg class="abs" style="left:4px;top:588px" width="112" height="28">
<defs><linearGradient id="ga" x1="0" x2="1" y1="0" y2="1"><stop offset="0" stop-color="#7fe08a"/><stop offset="1" stop-color="#1faa33"/></linearGradient></defs>
<rect x="6.600" y="7.800" width="15.400" height="12.800" rx="1.500" fill="#fff" stroke="#1a4fd0" stroke-width="1.300"/>
<rect x="7" y="8" width="14.500" height="2.300" fill="#7f9fe8"/>
<path d="M11,15 L13,18.200" fill="none" stroke="#e11" stroke-width="1.200"/>
<path d="M7,20 C9,13 12,8.500 17.500,8 L17.400,3.800 L24.300,9.300 L18.300,14.600 L18.200,11.600 C14,12 11,15 7.600,20 Z" fill="url(#ga)" stroke="#27a838" stroke-width=".5"/>
<polygon points="17,19 23.400,19 20.200,22.300" fill="#000" stroke="#fff" stroke-width=".6" paint-order="stroke"/>
<circle cx="41.500" cy="8.800" r="3.500" fill="#fff" stroke="#000" stroke-width="1.400"/>
<circle cx="41.500" cy="19.100" r="3.300" fill="#fff" stroke="#000" stroke-width="1.400"/>
<rect x="40.100" y="7.300" width="2.800" height="13.200" rx="1.400" fill="#fff" stroke="#000" stroke-width="1"/>
<polygon points="45.300,19 51.400,19 48.350,22.200" fill="#000" stroke="#fff" stroke-width=".6" paint-order="stroke"/>
<rect x="63.500" y="6.500" width="12.500" height="14.200" fill="#fff" stroke="#000" stroke-width="1.200"/>
<path d="M65.500,9 h6 M65.500,12 h9 M66,15 h9 M69,18 h6" stroke="#000" stroke-width="1.700"/>
<path d="M65,9.500 L75.500,19.500" stroke="#fff" stroke-width="1.500"/>
<polygon points="69.800,7.200 75.400,7.200 72.600,10.600" fill="#f07080"/><polygon points="64.200,20 70,20 67.100,16.300" fill="#2fcf3f"/>
<g stroke="#5f6468" stroke-width=".9">
<rect x="90.800" y="6.900" width="7.700" height="2.700" fill="#3fd83f"/><rect x="98.500" y="6.900" width="4" height="2.700" fill="#ff8c8c"/>
<rect x="93.800" y="9.900" width="4.700" height="2.700" fill="#3fd83f"/><rect x="98.500" y="9.900" width="7" height="2.700" fill="#ff8c8c"/>
<rect x="92.200" y="12.900" width="6.300" height="2.700" fill="#3fd83f"/><rect x="98.500" y="12.900" width="3" height="2.700" fill="#ff8c8c"/>
<rect x="95.200" y="15.900" width="3.300" height="2.700" fill="#3fd83f"/><rect x="98.500" y="15.900" width="7" height="2.700" fill="#ff8c8c"/>
<rect x="90.800" y="18.900" width="7.700" height="2.700" fill="#3fd83f"/><rect x="98.500" y="18.900" width="3" height="2.700" fill="#ff8c8c"/>
</g>
</svg>

<!-- scrollbar -->
<div id="sb"></div>
<div class="sbb" style="left:117px;width:16px"></div>
<div class="sbb" style="left:850px"></div>
<div class="sbb" style="left:406px;width:21px"></div>
<svg class="abs" style="left:117px;top:594px" width="750" height="16">
<polygon points="5,8 9,4.500 9,11.500" fill="#000"/>
<polygon points="742.500,8 739,4.500 739,11.500" fill="#000"/>
<path d="M296,5.500 h7 M296,7.500 h7 M296,9.500 h7" stroke="#8c9da7" stroke-width="1"/><path d="M296,6.500 h7 M296,8.500 h7 M296,10.500 h7" stroke="#f4fafc" stroke-width="1"/>
</svg>

<!-- right bottom icons -->
<svg class="abs" style="left:868px;top:588px" width="112" height="28">
<defs><radialGradient id="gl" cx=".4" cy=".35" r=".7"><stop offset="0" stop-color="#f4f4f4"/><stop offset="1" stop-color="#a8a8a8"/></radialGradient></defs>
<rect x="7" y="12" width="1" height="12" fill="#666"/><rect x="4.500" y="14.500" width="6" height="7" fill="#f08888" stroke="#666" stroke-width="1"/>
<rect x="15" y="4" width="1" height="20" fill="#444"/><rect x="12.500" y="6.500" width="6.500" height="15" fill="#3fd03f" stroke="#555" stroke-width="1"/>
<path d="M5.500,20.500 L11.500,13 C10.500,10.500 12.500,8 15.500,8 L13.800,10.800 L15.500,12.600 L18.300,11 C18.300,14 15.800,15.500 13.500,15 L7.500,22.300 Z" fill="#fff" stroke="#111" stroke-width="1.100" stroke-linejoin="round"/>
<circle cx="37" cy="11.800" r="5.200" fill="url(#gl)" stroke="#000" stroke-width="1.500"/><path d="M41.500,16 L46.500,21.500" stroke="#000" stroke-width="3" stroke-linecap="round"/>
<path d="M46.600,7 v8" stroke="#1414ff" stroke-width="1.400" fill="none"/><polygon points="44.200,9 46.600,5.600 49,9" fill="#1414ff"/><polygon points="44.200,13.500 46.600,16.900 49,13.500" fill="#1414ff"/>
<path d="M32,20.400 h6" stroke="#1414ff" stroke-width="1.400" fill="none"/><polygon points="33,18 29.600,20.400 33,22.800" fill="#1414ff"/><polygon points="37,18 40.400,20.400 37,22.800" fill="#1414ff"/>
<circle cx="65" cy="11.900" r="5.100" fill="#fff" stroke="#000" stroke-width="1.400"/><path d="M69.500,16.200 L74.500,21.500" stroke="#000" stroke-width="3" stroke-linecap="round"/>
<rect x="62" y="10.900" width="6" height="2" fill="#1010ff"/>
<circle cx="92.900" cy="11.900" r="5.100" fill="#fff" stroke="#000" stroke-width="1.400"/><path d="M97.400,16.200 L102.400,21.500" stroke="#000" stroke-width="3" stroke-linecap="round"/>
<path d="M89.900,11.900 h6 M92.900,8.900 v6" stroke="#1010ff" stroke-width="2"/>
</svg>
</body></html>
